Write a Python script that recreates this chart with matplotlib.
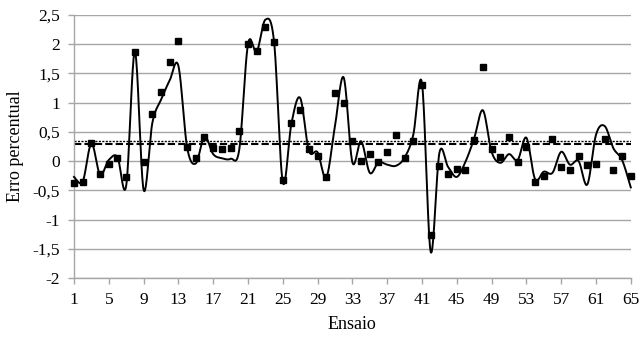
import numpy as np
import matplotlib
matplotlib.use("Agg")
import matplotlib.pyplot as plt
from matplotlib.ticker import FuncFormatter, MultipleLocator

plt.rcParams['font.family'] = ['Liberation Serif', 'DejaVu Serif']

# ensaio numbers
ensaio = list(range(1, 66))

# measured error (square markers)
erro_pontos = [
    -0.37, -0.35, 0.31, -0.22, -0.05, 0.06, -0.28, 1.87, -0.02, 0.81,
    1.19, 1.69, 2.05, 0.24, 0.05, 0.42, 0.22, 0.20, 0.23, 0.51,
    2.00, 1.88, 2.30, 2.04, -0.32, 0.65, 0.87, 0.20, 0.09, -0.28,
    1.16, 0.99, 0.34, 0.00, 0.12, -0.01, 0.15, 0.44, 0.06, 0.35,
    1.30, -1.27, -0.08, -0.22, -0.14, -0.15, 0.36, 1.61, 0.21, 0.07,
    0.41, -0.02, 0.25, -0.35, -0.26, 0.38, -0.10, -0.15, 0.09, -0.06,
    -0.05, 0.37, -0.15, 0.09, -0.25,
]

# smoothed curve series
erro_curva = [
    -0.27, -0.35, 0.30, -0.23, 0.02, 0.07, -0.42, 1.87, -0.49, 0.65,
    1.05, 1.38, 1.63, 0.24, -0.04, 0.42, 0.12, 0.05, 0.04, 0.20,
    2.00, 1.87, 2.42, 2.04, -0.36, 0.65, 1.08, 0.18, 0.15, -0.28,
    0.60, 1.43, -0.02, 0.34, -0.20, -0.02, -0.06, -0.08, 0.06, 0.45,
    1.33, -1.55, 0.14, -0.10, -0.27, -0.01, 0.39, 0.87, 0.16, -0.03,
    0.12, 0.02, 0.40, -0.31, -0.18, -0.20, 0.16, -0.06, 0.00, -0.40,
    0.45, 0.60, 0.22, 0.02, -0.45,
]

limite_tracejado = 0.295
limite_pontilhado = 0.35


def smooth_xy(x, y, n=20):
    # Bezier smoothing like a spreadsheet "smoothed line"
    x = np.asarray(x, float)
    y = np.asarray(y, float)
    px = np.concatenate([[x[0]], x, [x[-1]]])
    py = np.concatenate([[y[0]], y, [y[-1]]])
    t = np.linspace(0, 1, n, endpoint=False)
    xs, ys = [], []
    for i in range(1, len(px) - 2):
        p0x, p1x, p2x, p3x = px[i - 1], px[i], px[i + 1], px[i + 2]
        p0y, p1y, p2y, p3y = py[i - 1], py[i], py[i + 1], py[i + 2]
        c1x = p1x + (p2x - p0x) / 6
        c1y = p1y + (p2y - p0y) / 6
        c2x = p2x - (p3x - p1x) / 6
        c2y = p2y - (p3y - p1y) / 6
        b0 = (1 - t) ** 3
        b1 = 3 * (1 - t) ** 2 * t
        b2 = 3 * (1 - t) * t ** 2
        b3 = t ** 3
        xs.append(b0 * p1x + b1 * c1x + b2 * c2x + b3 * p2x)
        ys.append(b0 * p1y + b1 * c1y + b2 * c2y + b3 * p2y)
    xs.append([x[-1]])
    ys.append([y[-1]])
    return np.concatenate(xs), np.concatenate(ys)


fig = plt.figure(figsize=(6.4, 3.37), dpi=100)
ax = fig.add_axes([0.1156, 0.175, 0.870, 0.7805])

grid_c = "#a6a6a6"
ax.set_xlim(1, 65)
ax.set_ylim(-2, 2.5)
ax.yaxis.set_major_locator(MultipleLocator(0.5))
ax.set_xticks(range(1, 66, 4))
ax.grid(axis="y", color=grid_c, lw=1.0)
ax.set_axisbelow(True)

ax.axhline(limite_pontilhado, color="black", lw=1.0, ls=(0, (1.5, 1.0)))
ax.axhline(limite_tracejado, color="black", lw=1.5, ls=(0, (3.5, 1.5)))

sx, sy = smooth_xy(ensaio, erro_curva)
ax.plot(sx, sy, color="black", lw=1.4, clip_on=False, zorder=3)
ax.plot(ensaio, erro_pontos, ls="none", marker="s", ms=5, color="black",
        clip_on=False, zorder=4)

for s in ["top", "right"]:
    ax.spines[s].set_visible(False)
for s in ["left", "bottom"]:
    ax.spines[s].set_color(grid_c)
    ax.spines[s].set_linewidth(1.0)
ax.spines["bottom"].set_position(("data", -2))

ax.tick_params(axis="both", colors=grid_c, labelcolor="black", labelsize=12.5,
               length=4, width=1.0, direction="out")
ax.tick_params(axis="y", pad=6)
ax.tick_params(axis="x", pad=6)
ax.yaxis.set_major_formatter(FuncFormatter(lambda v, p: f"{v:g}".replace(".", ",")))

ax.set_xlabel("Ensaio", fontsize=13, labelpad=6)
ax.set_ylabel("Erro percentual", fontsize=13, labelpad=6)

fig.savefig("out.png", dpi=100)
